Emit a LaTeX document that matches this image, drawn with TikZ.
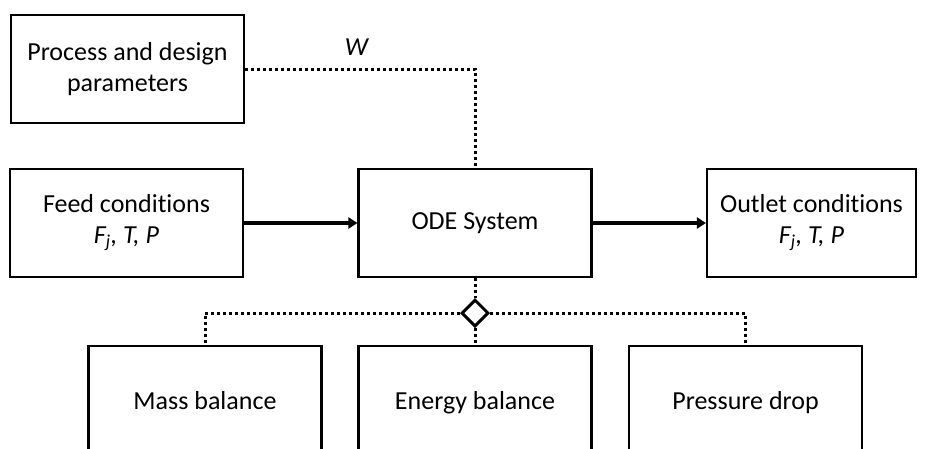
\documentclass[tikz,border=0pt]{standalone}
\usepackage{fontspec}
\setmainfont{Carlito}[Ligatures=NoCommon]
\usepackage{tikz}
\usetikzlibrary{positioning, arrows.meta, shapes.geometric}

\tikzset{
	block/.style={draw, line width=2.2pt, minimum width=233pt, minimum height=108pt,
		inner sep=0pt, align=center, font=\fontsize{26}{31}\selectfont},
	balance/.style={block, minimum height=114pt, text height=18pt, text depth=6pt},
	link/.style={line width=3pt, dash pattern=on 3pt off 3pt},
	flow/.style={line width=3.4pt, -{Triangle[length=9pt, width=11pt]}},
	junction/.style={diamond, draw, fill=white, line width=3pt, inner sep=0pt,
		minimum width=27pt, minimum height=27pt},
}

\begin{document}
\begin{tikzpicture}[x=1pt, y=-1pt]
	\clip (0, 0) rectangle (926, 448);
	\pgfmathsetmacro\my{223}
	% top row
	\node[block] (proc) at (127.5, 69) {Process and design\\parameters};
	\node[block] (feed) at (126.5, \my) {Feed conditions\\\textit{F\textsubscript{j}, T, P}};
	\node[block] (ode) at (475, \my) {ODE System};
	\node[block, minimum width=209pt] (outlet) at (811.5, \my) {Outlet conditions\\\textit{F\textsubscript{j}, T, P}};
	% balances
	\pgfmathsetmacro\by{403}
	\node[balance] (mass) at (205, \by) {Mass balance};
	\node[balance] (energy) at (475, \by) {Energy balance};
	\node[balance] (pdrop) at (745.5, \by) {Pressure drop};
	% parameters to ode
	\draw[link] (proc.east) -| (ode.north);
	\node[font=\fontsize{26}{31}\selectfont] (wlabel) at (357, 47) {\textit{W}};
	% flow
	\draw[flow] (feed.east) -- (ode.west);
	\draw[flow] (ode.east) -- (outlet.west);
	% split
	\node[junction] (split) at (475, 313) {};
	\draw[link] (ode.south) -- (split.north);
	\draw[link] (split.south) -- (energy.north);
	\draw[link] (split.west) -| (mass.north);
	\draw[link] (split.east) -| (pdrop.north);
\end{tikzpicture}
\end{document}
